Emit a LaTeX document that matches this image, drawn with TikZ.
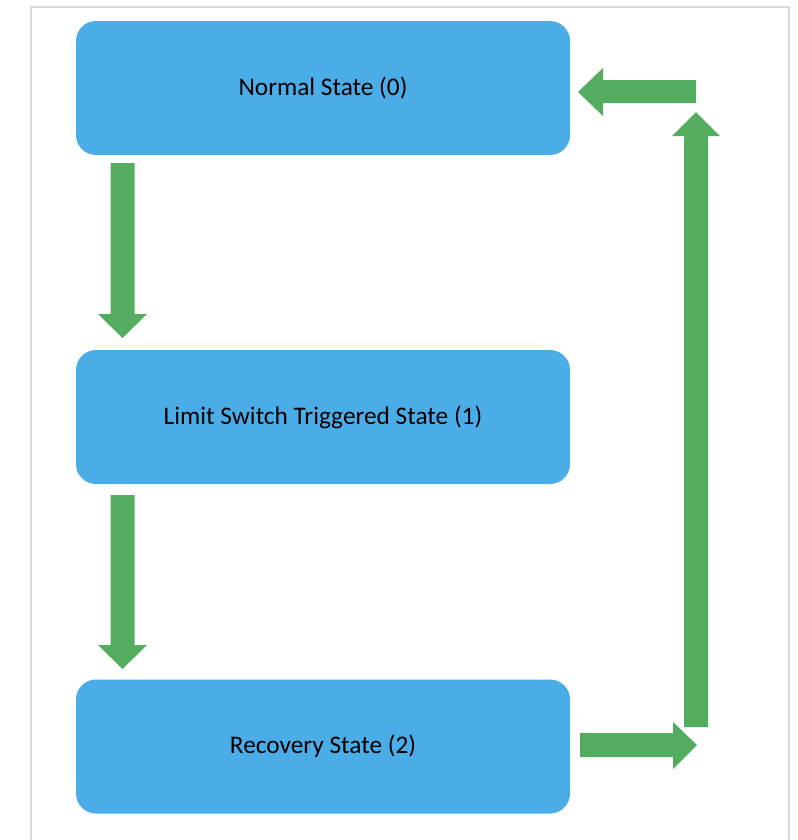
\documentclass[tikz,border=0pt]{standalone}
\usepackage{fontspec}
\setmainfont{Carlito}
\definecolor{boxblue}{HTML}{4BADE8}
\definecolor{flowgreen}{HTML}{52AE5E}
\definecolor{framegray}{HTML}{D9D9D9}
\begin{document}
\begin{tikzpicture}[x=0.75pt,y=-0.75pt,
  statebox/.style={fill=boxblue,draw=none,rounded corners=15pt,
    minimum width=494*0.75pt,minimum height=134*0.75pt,inner sep=0pt,
    font=\fontsize{19}{22}\selectfont,text=black},
  blockarrow/.style={fill=flowgreen,draw=none}]
\useasboundingbox (0,0) rectangle (798,840);
% page frame (open at the bottom)
\draw[framegray,line width=1.2pt] (31,845) -- (31,7) -- (789,7) -- (789,845);
% states
\node[statebox] (s0) at (323,88) {Normal State (0)};
\node[statebox] (s1) at (323,417) {Limit Switch Triggered State (1)};
\node[statebox] (s2) at (323,746.5) {Recovery State (2)};
% 0 -> 1
\fill[blockarrow] (110.5,163) -- (134.5,163) -- (134.5,314) -- (147,314)
  -- (122.5,338) -- (98,314) -- (110.5,314) -- cycle;
% 1 -> 2
\fill[blockarrow] (110.5,495) -- (134.5,495) -- (134.5,645) -- (147,645)
  -- (122.5,669) -- (98,645) -- (110.5,645) -- cycle;
% 2 -> right
\fill[blockarrow] (580,733) -- (673,733) -- (673,722) -- (697,745)
  -- (673,769) -- (673,757) -- (580,757) -- cycle;
% upward return
\fill[blockarrow] (684,727) -- (684,136) -- (672,136) -- (696,112)
  -- (720,136) -- (708,136) -- (708,727) -- cycle;
% back into state 0
\fill[blockarrow] (696,80) -- (603,80) -- (603,68) -- (578,92)
  -- (603,116) -- (603,103) -- (696,103) -- cycle;
\end{tikzpicture}
\end{document}
